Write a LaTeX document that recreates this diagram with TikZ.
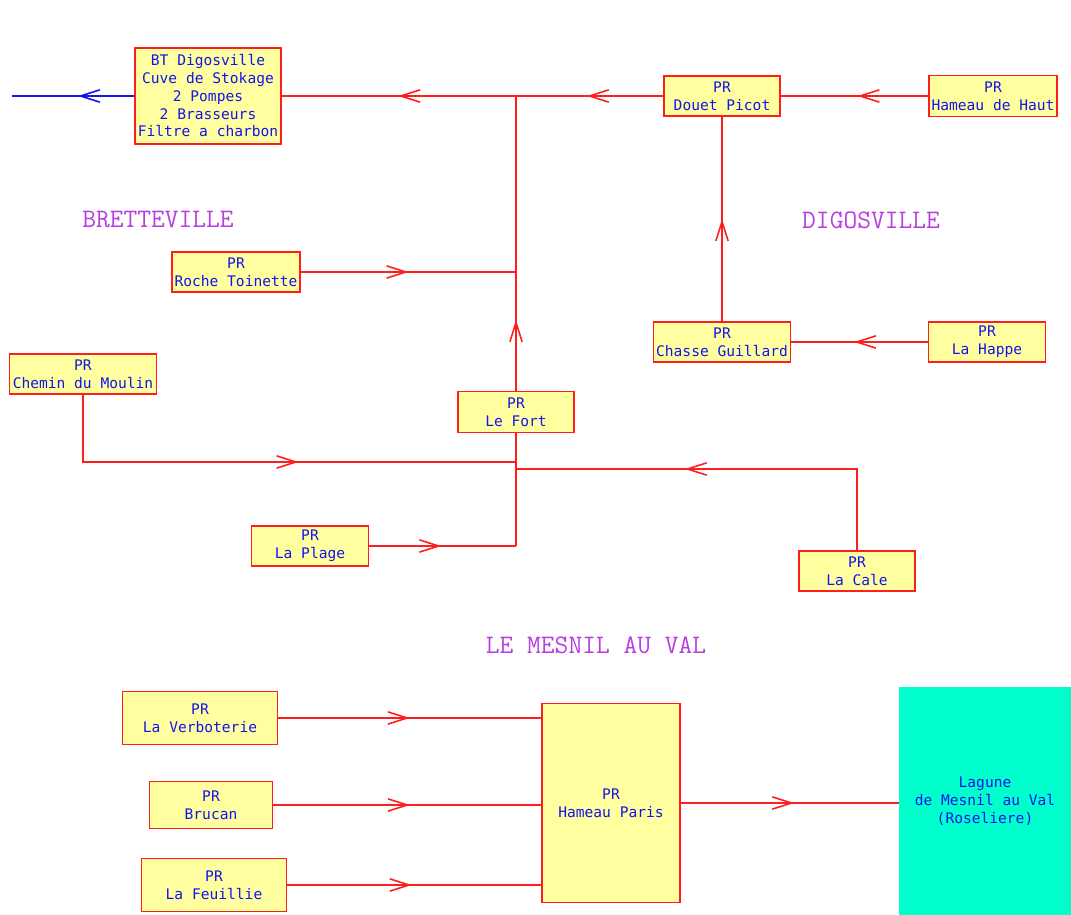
\documentclass[tikz,border=0pt]{standalone}
\usepackage{fontspec}
\usepackage{xcolor}
\usetikzlibrary{arrows.meta,decorations.markings}
\newfontfamily\cadfont{DejaVu Sans Mono}
\definecolor{boxyellow}{RGB}{255, 255, 160}
\definecolor{pipered}{RGB}{255, 30, 30}
\definecolor{textblue}{RGB}{20, 20, 235}
\definecolor{townpurple}{RGB}{185, 60, 225}
\definecolor{lagooncyan}{RGB}{0, 255, 204}

\begin{document}
\begin{tikzpicture}[x=0.02cm, y=-0.02cm,
    pr/.style={draw=pipered, line width=1.1pt, fill=boxyellow, align=center, text=textblue,
        font=\cadfont\fontsize{8.3}{10.1}\selectfont, inner sep=1pt},
    town/.style={text=townpurple, font=\ttfamily\fontsize{15.2}{17}\selectfont},
    pipe/.style={color=pipered, line width=0.9pt},
    outflow/.style={color=textblue, line width=0.9pt},
    flow/.style={postaction={decorate, decoration={markings,
        mark=at position #1 with {\arrow{Straight Barb[length=11pt,width=7pt]}}}}}]
    \useasboundingbox (0, 0) rectangle (1071, 915);

    % Station and main collector
    \node[pr, minimum width=2.92cm, minimum height=1.92cm] (bt) at (208, 96)
        {BT Digosville\\Cuve de Stokage\\2 Pompes\\2 Brasseurs\\Filtre a charbon};
    \coordinate (rejet) at (12, 96);
    \coordinate (jtop) at (516, 96);

    % Digosville side
    \node[pr, minimum width=2.32cm, minimum height=0.8cm] (douet) at (722, 96) {PR\\Douet Picot};
    \node[pr, minimum width=2.56cm, minimum height=0.82cm] (hhaut) at (993, 96) {PR\\Hameau de Haut};
    \node[pr, minimum width=2.74cm, minimum height=0.8cm] (chasse) at (722, 342) {PR\\Chasse Guillard};
    \node[pr, minimum width=2.34cm, minimum height=0.8cm] (happe) at (987, 342) {PR\\La Happe};

    % Bretteville side
    \node[pr, minimum width=2.56cm, minimum height=0.8cm] (roche) at (236, 272) {PR\\Roche Toinette};
    \node[pr, minimum width=2.32cm, minimum height=0.82cm] (lefort) at (516, 412) {PR\\Le Fort};
    \node[pr, minimum width=2.94cm, minimum height=0.8cm] (moulin) at (83, 374) {PR\\Chemin du Moulin};
    \node[pr, minimum width=2.34cm, minimum height=0.8cm] (plage) at (310, 546) {PR\\La Plage};
    \node[pr, minimum width=2.32cm, minimum height=0.8cm] (lacale) at (857, 571) {PR\\La Cale};
    \coordinate (jmoulin) at (516, 462);
    \coordinate (jcale) at (516, 469);
    \coordinate (jplage) at (516, 546);

    % Town names
    \node[town] (brette) at (158, 220) {BRETTEVILLE};
    \node[town] (digos) at (871, 220) {DIGOSVILLE};
    \node[town] (mesnil) at (596, 645) {LE MESNIL AU VAL};

    % Le Mesnil au Val
    \node[pr, minimum width=3.1cm, minimum height=1.06cm] (verb) at (200, 718) {PR\\La Verboterie};
    \node[pr, minimum width=2.46cm, minimum height=0.94cm] (brucan) at (211, 805) {PR\\Brucan};
    \node[pr, minimum width=2.9cm, minimum height=1.06cm] (feuillie) at (214, 885) {PR\\La Feuillie};
    \node[pr, minimum width=2.76cm, minimum height=3.98cm] (hparis) at (611, 803) {PR\\Hameau Paris};
    \node[fill=lagooncyan, align=center, text=textblue, font=\cadfont\fontsize{8.3}{10.1}\selectfont,
        minimum width=3.44cm, minimum height=4.56cm] (lagune) at (985, 801)
        {Lagune\\de Mesnil au Val\\(Roseliere)};

    % Pipes
    \draw[outflow, flow=0.46] (bt.west) -- (rejet);
    \draw[pipe, flow=0.2, flow=0.695] (douet.west) -- (bt.east);
    \draw[pipe, flow=0.48] (hhaut.west) -- (douet.east);
    \draw[pipe, flow=0.5] (chasse.north) -- (douet.south);
    \draw[pipe, flow=0.54] (happe.west) -- (chasse.east);
    \draw[pipe, flow=0.24] (lefort.north) -- (jtop);
    \draw[pipe, flow=0.5] (roche.east) -- (roche.east -| jtop);
    \draw[pipe] (lefort.south) -- (jplage);
    \draw[pipe, flow=0.565] (moulin.south) |- (jmoulin);
    \draw[pipe, flow=0.6] (lacale.north) |- (jcale);
    \draw[pipe, flow=0.49] (plage.east) -- (jplage);

    \draw[pipe, flow=0.5] (verb.east) -- (verb.east -| hparis.west);
    \draw[pipe, flow=0.51] (brucan.east) -- (brucan.east -| hparis.west);
    \draw[pipe, flow=0.49] (feuillie.east) -- (feuillie.east -| hparis.west);
    \draw[pipe, flow=0.52] (hparis.east) -- (hparis.east -| lagune.west);
\end{tikzpicture}
\end{document}
